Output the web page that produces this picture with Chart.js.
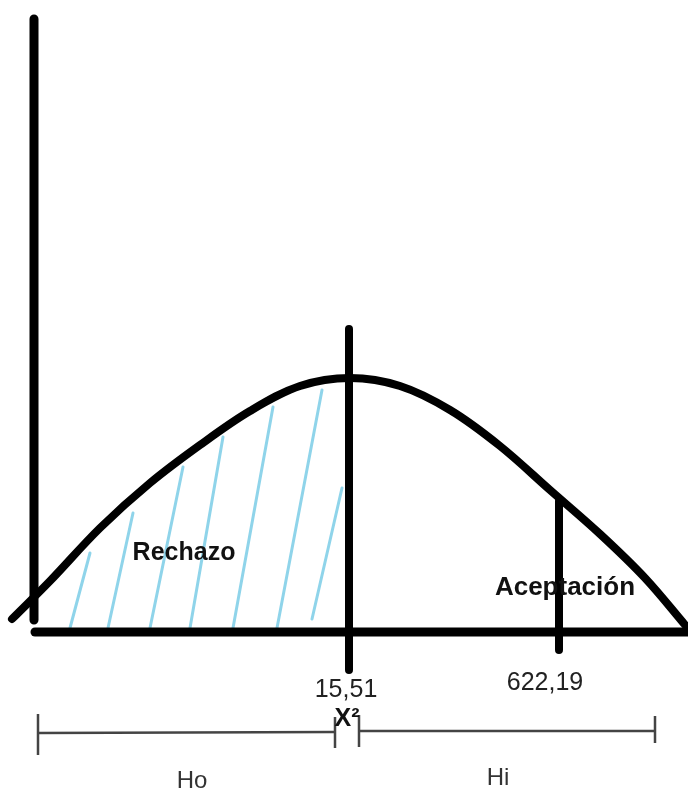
<!DOCTYPE html>
<html>
<head>
<meta charset="utf-8">
<title>Chi cuadrado</title>
<script src="https://cdn.jsdelivr.net/npm/chart.js"></script>
<style>
    body {
        margin: 0;
        padding: 0;
        background: #fff;
    }
    canvas {
        display: block;
    }
</style>
</head>
<body>
<canvas id="grafico" width="688" height="791"></canvas>
<script>
// Curva (coordenadas del lienzo)
const curvaX = [12, 50, 100, 150, 200, 250, 300, 350, 400, 450, 500, 550, 600, 645, 686];
const curvaY = [619, 581, 528, 483, 445, 411, 386, 378, 386, 410, 446, 490, 534, 578, 626];

// Ejes y lineas verticales
const ejeVertX = [34, 34];
const ejeVertY = [19, 620];
const ejeHorX = [35, 692];
const ejeHorY = [632, 632];
const criticoX = [349, 349];
const criticoY = [329, 670];
const calculadoX = [559, 559];
const calculadoY = [501, 650];

// Rayado de la zona de rechazo
const rayaX0 = [70, 108, 150, 190, 233, 277, 312];
const rayaY0 = [628, 628, 628, 628, 628, 628, 619];
const rayaX1 = [90, 133, 183, 223, 273, 322, 342];
const rayaY1 = [553, 513, 467, 437, 407, 390, 488];

// Llave inferior Ho / Hi
const llaveHoX = [38, 335];
const llaveHoY = [733, 732];
const llaveHiX = [359, 655];
const llaveHiY = [731, 731];
const marcaX = [38, 335, 359, 655];
const marcaY0 = [714, 717, 715, 716];
const marcaY1 = [755, 748, 747, 743];

// Textos
const textos = ['Rechazo', 'Aceptación', '15,51', '622,19', 'X²', 'Ho', 'Hi'];
const textoX = [184, 565, 346, 545, 347, 192, 498];
const textoY = [560, 595, 697, 690, 726, 788, 785];
const textoFuente = [
    'bold 25px "Liberation Sans"',
    'bold 26px "Liberation Sans"',
    '25px "Liberation Sans"',
    '25px "Liberation Sans"',
    'bold 25px "Liberation Sans Narrow", "Liberation Sans"',
    '24px "Liberation Sans"',
    '24px "Liberation Sans"'
];
const textoColor = ['#111', '#111', '#222', '#222', '#111', '#333', '#333'];

function puntos(xs, ys) {
    return xs.map((x, i) => ({ x: x, y: ys[i] }));
}

function linea(xs, ys, color, ancho, extra) {
    return Object.assign({
        data: puntos(xs, ys),
        showLine: true,
        borderColor: color,
        borderWidth: ancho,
        borderCapStyle: 'round',
        pointRadius: 0,
        fill: false
    }, extra || {});
}

const datasets = [];

// lineas negras (indice bajo = se dibuja encima)
datasets.push(linea(curvaX, curvaY, '#000', 8, { tension: 0.35, borderJoinStyle: 'round' }));
datasets.push(linea(ejeVertX, ejeVertY, '#000', 9));
datasets.push(linea(ejeHorX, ejeHorY, '#000', 9));
datasets.push(linea(criticoX, criticoY, '#000', 8));
datasets.push(linea(calculadoX, calculadoY, '#000', 8));

// llaves
datasets.push(linea(llaveHoX, llaveHoY, '#444', 2.5, { borderCapStyle: 'butt' }));
datasets.push(linea(llaveHiX, llaveHiY, '#444', 2.5, { borderCapStyle: 'butt' }));
marcaX.forEach((x, i) => {
    datasets.push(linea([x, x], [marcaY0[i], marcaY1[i]], '#444', 2.5, { borderCapStyle: 'butt' }));
});

// rayado celeste
rayaX0.forEach((x, i) => {
    datasets.push(linea([x, rayaX1[i]], [rayaY0[i], rayaY1[i]], '#8fd4ea', 3));
});

const pluginTextos = {
    id: 'textos',
    afterDatasetsDraw(chart) {
        const ctx = chart.ctx;
        const sx = chart.scales.x;
        const sy = chart.scales.y;
        ctx.save();
        ctx.textAlign = 'center';
        ctx.textBaseline = 'alphabetic';
        textos.forEach((t, i) => {
            ctx.font = textoFuente[i];
            ctx.fillStyle = textoColor[i];
            ctx.fillText(t, sx.getPixelForValue(textoX[i]), sy.getPixelForValue(textoY[i]));
        });
        ctx.restore();
    }
};

const pluginFondo = {
    id: 'fondo',
    beforeDraw(chart) {
        const ctx = chart.ctx;
        ctx.save();
        ctx.fillStyle = '#fff';
        ctx.fillRect(0, 0, chart.width, chart.height);
        ctx.restore();
    }
};

new Chart(document.getElementById('grafico').getContext('2d'), {
    type: 'scatter',
    data: { datasets: datasets },
    options: {
        responsive: false,
        animation: false,
        layout: { padding: 0 },
        plugins: {
            legend: { display: false },
            tooltip: { enabled: false }
        },
        scales: {
            x: { type: 'linear', min: 0, max: 688, display: false },
            y: { type: 'linear', min: 0, max: 791, reverse: true, display: false }
        }
    },
    plugins: [pluginFondo, pluginTextos]
});
</script>
</body>
</html>
